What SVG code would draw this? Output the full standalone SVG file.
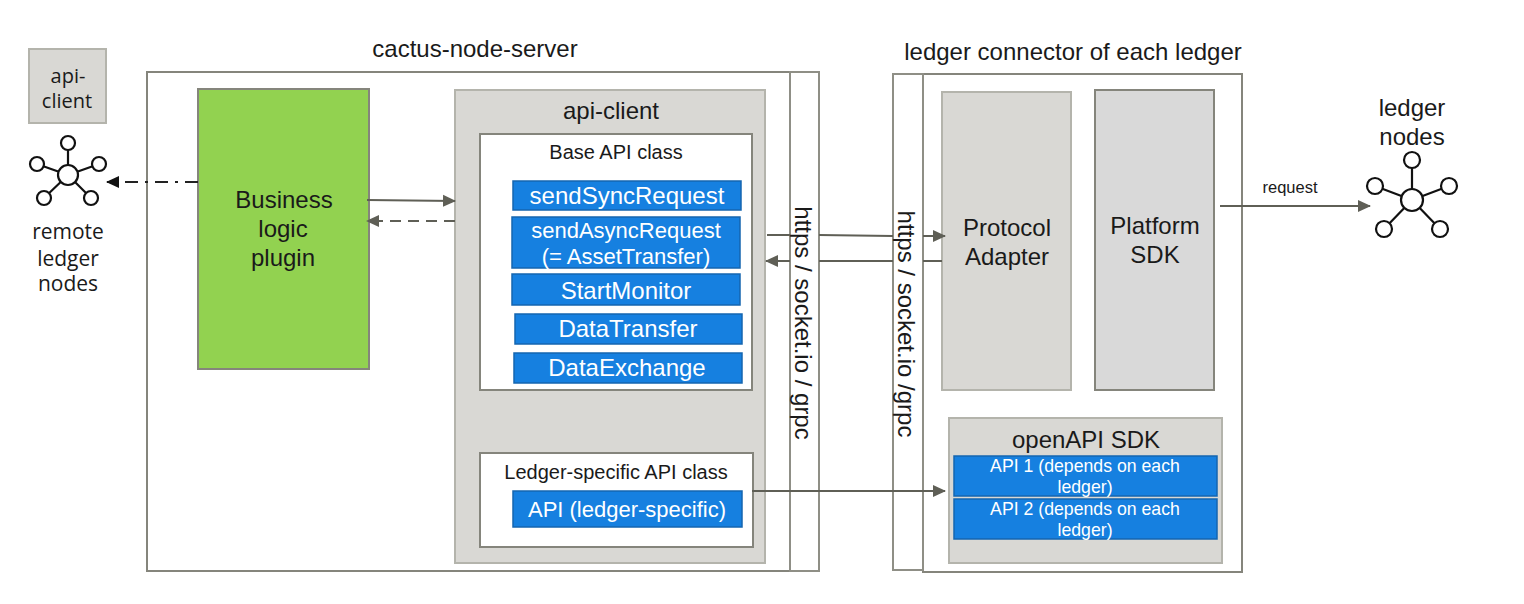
<svg xmlns="http://www.w3.org/2000/svg" width="1524" height="604" viewBox="0 0 1524 604">
<style>
text{font-family:"Liberation Sans",Arial,sans-serif;text-anchor:middle;fill:#1a1a1a}
.os{font-family:"Open Sans",sans-serif}
.box{fill:#fff;stroke:#85857c;stroke-width:2}
.bar{fill:#fff;stroke:#8f8f86;stroke-width:2}
.gray{fill:#d9d8d4;stroke:#b4b4ac;stroke-width:2}
.blue{fill:#1680e0;stroke:#1565b0;stroke-width:1.5}
text.bt{fill:#fff}
.f24{font-size:24px}.f22{font-size:22px}.f20{font-size:20px}.f18{font-size:18px}
.conn{fill:none;stroke:#5f5f56;stroke-width:2}
.ic{fill:#fff;stroke:#111;stroke-width:2.2}
.il{stroke:#111;stroke-width:2.2}
</style>
<defs>
<marker id="ah" markerUnits="userSpaceOnUse" markerWidth="14" markerHeight="14" refX="12" refY="7" orient="auto"><path d="M0 1L13 7L0 13Z" fill="#5f5f56"/></marker>
<marker id="ahk" markerUnits="userSpaceOnUse" markerWidth="14" markerHeight="14" refX="12" refY="7" orient="auto"><path d="M0 1L13 7L0 13Z" fill="#111"/></marker>
</defs>
<g id="api-client-small"><rect class="gray" x="29" y="49" width="77" height="74"/><text class="os f20" x="68" y="83">api-</text><text class="os f20" x="67" y="108">client</text></g>
<g id="remote-ledger-nodes"><path class="il" d="M68 175L68 143M68 175L37 164M68 175L99 164M68 175L44 198M68 175L91 198"/><circle class="ic" cx="68" cy="175" r="10"/><circle class="ic" cx="68" cy="143" r="7"/><circle class="ic" cx="37" cy="164" r="7"/><circle class="ic" cx="99" cy="164" r="7"/><circle class="ic" cx="44" cy="198" r="7"/><circle class="ic" cx="91" cy="198" r="7"/>
<text class="os" font-size="21" x="68" y="239">remote</text><text class="os" font-size="21" x="68" y="266">ledger</text><text class="os" font-size="21" x="68" y="291">nodes</text></g>
<g id="cactus-node-server"><rect class="box" x="147" y="72" width="643" height="499"/><text class="f24" x="475" y="57">cactus-node-server</text></g>
<g id="http-bar-left"><rect class="bar" x="790" y="72" width="29" height="499"/><text class="f24" transform="translate(795 323) rotate(90)">https / socket.io / grpc</text></g>
<g id="ledger-connector"><rect class="box" x="923" y="74" width="319" height="498"/><text class="f24" x="1073" y="60">ledger connector of each ledger</text></g>
<g id="http-bar-right"><rect class="bar" x="893" y="74" width="30" height="496"/><text class="f24" transform="translate(898 324) rotate(90)">https / socket.io /grpc</text></g>
<g id="business-logic-plugin"><rect x="198" y="89" width="171" height="280" fill="#92d250" stroke="#85857c" stroke-width="2"/><text class="f24" x="284" y="208">Business</text><text class="f24" x="283" y="237">logic</text><text class="f24" x="283" y="266">plugin</text></g>
<g id="api-client"><rect class="gray" x="455" y="90" width="310" height="473"/><text class="f24" x="611" y="119">api-client</text></g>
<g id="base-api-class"><rect class="box" x="480" y="134" width="272" height="256"/><text class="f20" x="616" y="159">Base API class</text></g>
<g id="sendSyncRequest"><rect class="blue" x="513" y="181" width="228" height="29"/><text class="bt f24" x="627" y="204">sendSyncRequest</text></g>
<g id="sendAsyncRequest"><rect class="blue" x="512" y="217" width="228" height="51"/><text class="bt f22" x="626" y="238">sendAsyncRequest</text><text class="bt f22" x="626" y="264">(= AssetTransfer)</text></g>
<g id="StartMonitor"><rect class="blue" x="512" y="274" width="228" height="31"/><text class="bt f24" x="626" y="299">StartMonitor</text></g>
<g id="DataTransfer"><rect class="blue" x="515" y="314" width="227" height="30"/><text class="bt f24" x="628" y="337">DataTransfer</text></g>
<g id="DataExchange"><rect class="blue" x="514" y="353" width="228" height="30"/><text class="bt f24" x="627" y="376">DataExchange</text></g>
<g id="ledger-specific-api-class"><rect class="box" x="480" y="453" width="273" height="94"/><text class="f20" x="616" y="479">Ledger-specific API class</text></g>
<g id="api-ledger-specific"><rect class="blue" x="513" y="491" width="229" height="36"/><text class="bt f22" x="627" y="517">API (ledger-specific)</text></g>
<g id="protocol-adapter"><rect class="gray" x="942" y="92" width="129" height="298"/><text class="f24" x="1007" y="236">Protocol</text><text class="f24" x="1007" y="265">Adapter</text></g>
<g id="platform-sdk"><rect x="1095" y="90" width="119" height="300" fill="#d9d9d9" stroke="#85857c" stroke-width="2"/><text class="f24" x="1155" y="234">Platform</text><text class="f24" x="1155" y="263">SDK</text></g>
<g id="openapi-sdk"><rect class="gray" x="949" y="418" width="273" height="145"/><text class="f24" x="1086" y="448">openAPI SDK</text></g>
<g id="api-1"><rect class="blue" x="954" y="456" width="263" height="40"/><text class="bt" font-size="17.7" x="1085" y="472">API 1 (depends on each</text><text class="bt" font-size="17.7" x="1085" y="493">ledger)</text></g>
<g id="api-2"><rect class="blue" x="954" y="499" width="263" height="40"/><text class="bt" font-size="17.7" x="1085" y="515">API 2 (depends on each</text><text class="bt" font-size="17.7" x="1085" y="536">ledger)</text></g>
<g id="connectors">
<path class="conn" d="M367 200L455 201" marker-end="url(#ah)"/>
<path class="conn" d="M455 221L367 221" stroke-dasharray="11 7" marker-end="url(#ah)"/>
<path d="M198 182L107 182" fill="none" stroke="#222" stroke-width="2" stroke-dasharray="13 7 3 7" marker-end="url(#ahk)"/>
<path class="conn" d="M767 235L790 235M819 235L893 236M923 236L945 236" marker-end="url(#ah)"/>
<path class="conn" d="M942 261L923 261M893 261L819 261M790 261L766 261" marker-end="url(#ah)"/>
<path class="conn" d="M752 491L945 491" marker-end="url(#ah)"/>
<path class="conn" d="M1220 206L1370 206" marker-end="url(#ah)"/>
</g>
<g id="ledger-nodes"><path class="il" d="M1412 200L1412 160M1412 200L1375 186M1412 200L1449 186M1412 200L1384 229M1412 200L1440 229"/><circle class="ic" cx="1412" cy="200" r="11"/><circle class="ic" cx="1412" cy="160" r="8"/><circle class="ic" cx="1375" cy="186" r="8"/><circle class="ic" cx="1449" cy="186" r="8"/><circle class="ic" cx="1384" cy="229" r="8"/><circle class="ic" cx="1440" cy="229" r="8"/>
<text class="f24" x="1412" y="116">ledger</text><text class="f24" x="1412" y="145">nodes</text></g>
<text x="1290" y="193" font-size="16.5" fill="#333">request</text>
</svg>
